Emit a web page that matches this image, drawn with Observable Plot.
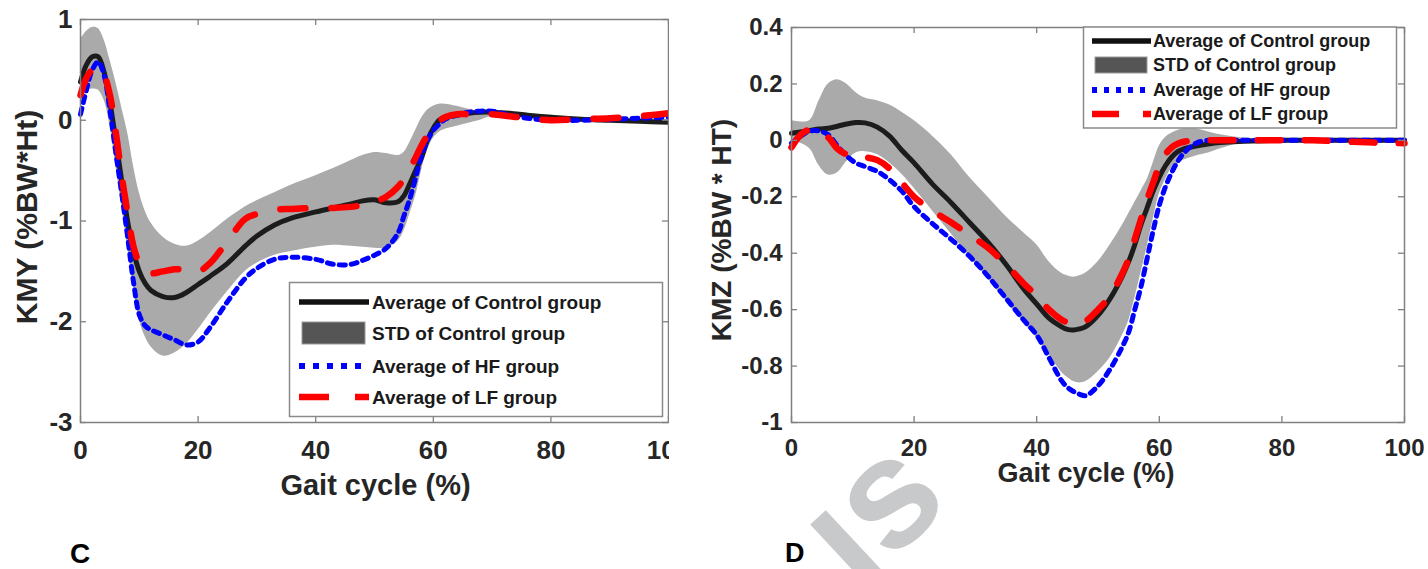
<!DOCTYPE html>
<html><head><meta charset="utf-8">
<script src="https://cdn.jsdelivr.net/npm/d3@7"></script>
<script src="https://cdn.jsdelivr.net/npm/@observablehq/plot@0.6"></script>
<style>
html,body{margin:0;padding:0;background:#fff;}
#wrap{position:relative;width:1428px;height:569px;overflow:hidden;background:#fff;font-family:"Liberation Sans",Arial,sans-serif;}
.panel{position:absolute;top:0;overflow:hidden;}
#overlay{position:absolute;left:0;top:0;pointer-events:none;}
</style></head><body><div id="wrap"><div id="pc" class="panel" style="left:0;width:669px;height:569px"></div><div id="pd" class="panel" style="left:700px;width:728px;height:569px"></div></div>
<script>
// ---------- Panel C data (KMY) ----------
const xC = [0,1,2,3,4,5,6,7,8,9,10,11,12,14,16,18,20,22,25,28,30,33,36,40,43,46,48,50,52,54,55,56,57,58,59,60,61,62,64,66,68,70,73,76,80,85,90,95,100];
const meanC = [0.38,0.55,0.63,0.63,0.48,0.18,-0.2,-0.6,-1.0,-1.3,-1.5,-1.62,-1.69,
  -1.75,-1.76,-1.71,-1.63,-1.55,
  -1.42,-1.25,-1.15,-1.04,-0.97,-0.91,-0.87,-0.83,-0.8,-0.79,
  -0.82,-0.81,-0.75,-0.63,-0.5,-0.37,-0.2,-0.08,0.0,0.03,
  0.05,0.07,0.08,0.08,0.07,0.05,0.03,0.01,0.0,-0.01,-0.02];
const upperC = [0.8,0.88,0.92,0.91,0.8,0.6,0.38,0.13,-0.12,-0.45,-0.72,-0.9,-1.02,
  -1.16,-1.23,-1.25,-1.2,-1.12,
  -0.98,-0.86,-0.8,-0.72,-0.64,-0.55,-0.48,-0.4,-0.35,-0.32,
  -0.33,-0.35,-0.32,-0.22,-0.1,0.02,0.1,0.14,0.16,0.16,
  0.14,0.11,0.09,0.09,0.08,0.07,0.05,0.03,0.02,0.01,0.0];
const lowerC = [0.3,0.3,0.31,0.3,0.2,-0.05,-0.45,-0.85,-1.25,-1.65,-1.98,-2.15,-2.25,
  -2.34,-2.31,-2.22,-2.08,-1.92,
  -1.7,-1.5,-1.42,-1.34,-1.3,-1.26,-1.24,-1.25,-1.26,-1.27,
  -1.27,-1.2,-1.1,-0.93,-0.75,-0.5,-0.3,-0.18,-0.12,-0.09,
  -0.06,-0.03,0.0,0.04,0.04,0.03,0.01,-0.01,-0.02,-0.03,-0.04];
const hfC = [0.06,0.3,0.5,0.58,0.45,0.1,-0.32,-0.72,-1.15,-1.6,-1.93,-2.04,-2.08,
  -2.13,-2.18,-2.23,-2.2,-2.06,
  -1.8,-1.57,-1.47,-1.38,-1.36,-1.38,-1.43,-1.43,-1.39,-1.34,
  -1.27,-1.12,-0.95,-0.78,-0.57,-0.35,-0.2,-0.1,-0.04,0.01,
  0.05,0.08,0.09,0.09,0.05,0.02,0.0,0.0,0.01,0.02,0.03];
const lfC = [0.25,0.42,0.5,0.52,0.45,0.25,-0.12,-0.55,-0.92,-1.25,-1.42,-1.5,-1.52,
  -1.5,-1.48,-1.48,-1.5,-1.42,
  -1.2,-0.98,-0.93,-0.89,-0.88,-0.87,-0.87,-0.86,-0.84,-0.81,
  -0.76,-0.66,-0.58,-0.48,-0.37,-0.25,-0.15,-0.07,-0.01,0.03,
  0.06,0.06,0.06,0.06,0.04,0.02,0.0,0.01,0.02,0.04,0.07];

// ---------- Panel D data (KMZ) ----------
const xD = [0,1.5,3,4.5,6,7.5,9,10.5,12,14,16,18,20,23,26,29,32,35,38,40,42,44,45,46,47,48,50,52,54,55,56,57,58,59,60,61,62,63,64,66,68,70,73,76,80,85,90,95,100];
const meanD = [0.025,0.03,0.035,0.04,0.043,0.05,0.058,0.063,0.062,
  0.047,0.015,-0.035,-0.08,
  -0.155,-0.22,-0.29,-0.36,-0.44,-0.53,
  -0.58,-0.63,-0.66,-0.67,-0.672,-0.668,-0.66,
  -0.62,-0.56,-0.48,-0.43,-0.37,-0.3,-0.24,-0.18,-0.13,-0.09,-0.06,-0.04,-0.03,
  -0.02,-0.013,-0.008,-0.004,-0.002,0,0,0,0,0];
const upperD = [0.07,0.065,0.07,0.14,0.2,0.215,0.2,0.17,0.15,
  0.14,0.125,0.1,0.07,
  0.015,-0.05,-0.13,-0.2,-0.27,-0.33,
  -0.37,-0.43,-0.47,-0.48,-0.485,-0.48,-0.47,
  -0.43,-0.37,-0.3,-0.26,-0.22,-0.18,-0.14,-0.08,-0.02,0.01,0.025,0.035,0.04,
  0.04,0.03,0.02,0.01,0.006,0.003,0.002,0.001,0,0];
const lowerD = [-0.005,-0.01,-0.03,-0.09,-0.123,-0.115,-0.075,-0.045,-0.04,
  -0.05,-0.08,-0.12,-0.17,
  -0.25,-0.33,-0.41,-0.49,-0.57,-0.65,
  -0.7,-0.76,-0.82,-0.84,-0.855,-0.86,-0.855,
  -0.82,-0.77,-0.69,-0.64,-0.56,-0.47,-0.38,-0.28,-0.19,-0.14,-0.1,-0.085,-0.07,
  -0.055,-0.045,-0.03,-0.012,-0.004,0,0,0,0,0];
const hfD = [-0.01,0.015,0.033,0.033,0.02,-0.02,-0.055,-0.08,-0.093,
  -0.11,-0.14,-0.18,-0.235,
  -0.295,-0.35,-0.41,-0.48,-0.56,-0.64,
  -0.69,-0.77,-0.85,-0.875,-0.89,-0.9,-0.905,
  -0.87,-0.81,-0.73,-0.68,-0.6,-0.52,-0.42,-0.32,-0.23,-0.165,-0.115,-0.075,-0.045,
  -0.01,0,0,0,0,0,0,0,0,0];
const lfD = [-0.025,0.02,0.038,0.03,0.01,-0.03,-0.05,-0.057,-0.06,
  -0.07,-0.1,-0.15,-0.2,
  -0.25,-0.29,-0.335,-0.38,-0.44,-0.51,
  -0.55,-0.6,-0.635,-0.645,-0.648,-0.645,-0.64,
  -0.6,-0.55,-0.47,-0.42,-0.35,-0.28,-0.21,-0.15,-0.09,-0.05,-0.025,-0.012,-0.005,
  0,0,0,0,0,0,0,-0.004,-0.008,-0.01];

// ---------- ticks & labels ----------
const xTicks = [0,20,40,60,80,100];
const yTicksC = [-3,-2,-1,0,1];
const yTicksD = [-1,-0.8,-0.6,-0.4,-0.2,0,0.2,0.4];
const xLabel = "Gait cycle (%)";
const yLabelC = "KMY (%BW*Ht)";
const yLabelD = "KMZ (%BW * HT)";
const legendLabels = ["Average of Control group","STD of Control group","Average of HF group","Average of LF group"];
const panelLetters = ["C","D"];
const watermark = "ıs";

const FONT = "Liberation Sans, Arial, Helvetica, sans-serif";
const TXT = "#262626";
const AX = "#808080";

function rows(xs, m, lo, hi, hf, lf){
  return xs.map((x,i)=>({x, mean:m[i], lo:lo[i], hi:hi[i], hf:hf[i], lf:lf[i]}));
}

function panel(cfg){
  const fw = cfg.width - cfg.ml - cfg.mr;
  const fh = cfg.height - cfg.mt - cfg.mb;
  const data = cfg.data;
  return Plot.plot({
    width: cfg.width, height: cfg.height,
    marginLeft: cfg.ml, marginRight: cfg.mr, marginTop: cfg.mt, marginBottom: cfg.mb,
    x: {domain:[0,100]}, y: {domain: cfg.ydomain},
    style: {fontFamily: FONT, color: TXT, background: "white"},
    marks: [
      Plot.areaY(data, {x:"x", y1:"lo", y2:"hi", fill:"#aaaaaa", curve:"catmull-rom"}),
      Plot.lineY(data, {x:"x", y:"mean", stroke:"#1c1c1c", strokeWidth:5, curve:"catmull-rom"}),
      Plot.lineY(data, {x:"x", y:"hf", stroke:"#0000ff", strokeWidth:5, strokeDasharray:"6,6", curve:"catmull-rom"}),
      Plot.lineY(data, {x:"x", y:"lf", stroke:"#ff0000", strokeWidth:6.5, strokeDasharray:cfg.redDash, curve:"catmull-rom"}),
      Plot.frame({stroke: AX, strokeWidth: 1.5}),
      Plot.tickX(xTicks, {x:d=>d, stroke:AX, strokeWidth:1.3, insetTop: fh-6}),
      Plot.tickX(xTicks, {x:d=>d, stroke:AX, strokeWidth:1.3, insetBottom: fh-6}),
      Plot.tickY(cfg.yticks, {y:d=>d, stroke:AX, strokeWidth:1.3, insetRight: fw-6}),
      Plot.tickY(cfg.yticks, {y:d=>d, stroke:AX, strokeWidth:1.3, insetLeft: fw-6}),
      Plot.axisX({ticks: xTicks, tickSize:0, tickPadding: cfg.xpad, fontSize: cfg.tickFont, fontWeight:"bold", fill: TXT, label:null, tickFormat: d=>String(d)}),
      Plot.axisY({ticks: cfg.yticks, tickSize:0, tickPadding: cfg.ypad, fontSize: cfg.tickFont, fontWeight:"bold", fill: TXT, label:null, tickFormat: d=>String(d)}),
      Plot.text([xLabel], {text:d=>d, frameAnchor:"bottom", textAnchor:"middle", lineAnchor:"middle", dx: cfg.xlabDx, dy: cfg.xlabDy, fontSize: cfg.labFont, fontWeight:"bold", fill: TXT}),
      Plot.text([cfg.ylabel], {text:d=>d, frameAnchor:"left", textAnchor:"middle", lineAnchor:"middle", rotate:-90, dx: cfg.ylabDx, dy: cfg.ylabDy, fontSize: cfg.ylabFont, fontWeight:"bold", fill: TXT})
    ]
  });
}

const plotC = panel({
  width: 669, height: 569, ml: 80, mr: 1, mt: 19, mb: 147,
  ydomain: [-3,1], yticks: yTicksC, data: rows(xC, meanC, lowerC, upperC, hfC, lfC),
  redDash: "25,26", xpad: 18, ypad: 8, tickFont: 26,
  labFont: 29, xlabDx: 1, xlabDy: 63, ylabel: yLabelC, ylabFont: 30, ylabDx: -53, ylabDy: -4
});
const plotD = panel({
  width: 728, height: 569, ml: 91, mr: 24, mt: 27, mb: 147,
  ydomain: [-1,0.4], yticks: yTicksD, data: rows(xD, meanD, lowerD, upperD, hfD, lfD),
  redDash: "23,24", xpad: 16, ypad: 9, tickFont: 24,
  labFont: 27, xlabDx: -12, xlabDy: 51, ylabel: yLabelD, ylabFont: 28, ylabDx: -69, ylabDy: 5
});
document.getElementById("pc").appendChild(plotC);
document.getElementById("pd").appendChild(plotD);

// ---------- legends & annotations (overlay) ----------
const svg = d3.select("#wrap").append("svg").attr("id","overlay").attr("width",1428).attr("height",569);

function legend(g){
  const G = svg.append("g");
  G.append("rect").attr("x",g.x).attr("y",g.y).attr("width",g.w).attr("height",g.h)
    .attr("fill","white").attr("stroke","#8a8a8a").attr("stroke-width",1.5);
  g.rows.forEach((ry,i)=>{
    if(i===1){
      G.append("rect").attr("x",g.px1).attr("y",ry-g.ph/2).attr("width",g.px2-g.px1).attr("height",g.ph)
        .attr("fill","#555555").attr("stroke","#9a9a9a").attr("stroke-width",1);
    } else {
      const st = [{c:"#111111",d:null,w:5.5},null,{c:"#0000ff",d:g.blueDash,w:6},{c:"#ff0000",d:g.redDash,w:6.5}][i];
      G.append("line").attr("x1",g.sx1).attr("x2",g.sx2).attr("y1",ry).attr("y2",ry)
        .attr("stroke",st.c).attr("stroke-width",st.w).attr("stroke-dasharray",st.d);
    }
    G.append("text").attr("x",g.tx).attr("y",ry).attr("dy","0.36em")
      .attr("font-family",FONT).attr("font-weight","bold").attr("font-size",g.fs)
      .attr("fill","#1a1a1a").text(legendLabels[i]);
  });
}
legend({x:289.5,y:282.5,w:373,h:134,rows:[302,333,366,397],sx1:299,sx2:369,px1:302,px2:365,ph:22,tx:372,fs:19,blueDash:"6,8",redDash:"30,26"});
legend({x:1083.5,y:27,w:313,h:101,rows:[41,65,90,114],sx1:1092,sx2:1151,px1:1095,px2:1147,ph:16,tx:1153,fs:18,blueDash:"5,7",redDash:"27,24"});

svg.append("text").attr("x",70).attr("y",563).attr("font-family",FONT).attr("font-weight","bold")
  .attr("font-size",28).attr("fill","#000").text(panelLetters[0]);
svg.append("text").attr("x",785).attr("y",562).attr("font-family",FONT).attr("font-weight","bold")
  .attr("font-size",27).attr("fill","#000").text(panelLetters[1]);

svg.append("text").attr("transform","translate(858,592) rotate(-43)")
  .attr("font-family",FONT).attr("font-weight","bold").attr("font-size",155)
  .attr("fill","#c8c9cb").text(watermark);
</script></body></html>
